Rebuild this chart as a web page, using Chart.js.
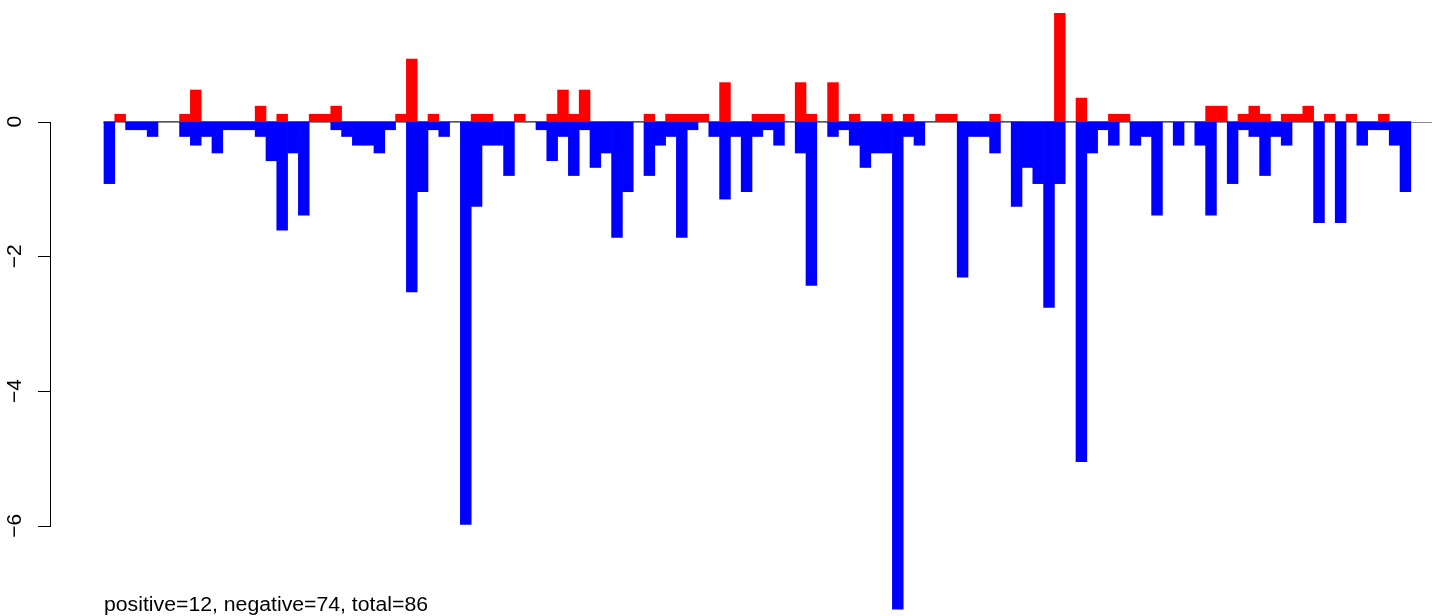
<!DOCTYPE html>
<html>
<head>
<meta charset="utf-8">
<script src="https://cdn.jsdelivr.net/npm/chart.js@4"></script>
<style>
  html, body { margin: 0; padding: 0; background: #fff; }
  #wrap { width: 1444px; height: 616px; }
</style>
</head>
<body>
<div id="wrap"><canvas id="cnv" width="1444" height="616"></canvas></div>
<script>
// red bars (gains) and blue bars (losses), one value per position, left to right
var gains = [
  0, 0.11, 0, 0, 0, 0, 0, 0.11, 0.47, 0,
  0, 0, 0, 0, 0.23, 0, 0.11, 0, 0, 0.11,
  0.11, 0.23, 0, 0, 0, 0, 0, 0.11, 0.93, 0,
  0.11, 0, 0, 0, 0.11, 0.11, 0, 0, 0.11, 0,
  0, 0.11, 0.47, 0.11, 0.47, 0, 0, 0, 0, 0,
  0.11, 0, 0.11, 0.11, 0.11, 0.11, 0, 0.58, 0, 0,
  0.11, 0.11, 0.11, 0, 0.58, 0.11, 0, 0.58, 0, 0.11,
  0, 0, 0.11, 0, 0.11, 0, 0, 0.11, 0.11, 0,
  0, 0, 0.11, 0, 0, 0, 0, 0, 1.61, 0,
  0.35, 0, 0, 0.11, 0.11, 0, 0, 0, 0, 0,
  0, 0, 0.23, 0.23, 0, 0.11, 0.23, 0.11, 0, 0.11,
  0.11, 0.23, 0, 0.11, 0, 0.11, 0, 0, 0.11, 0,
  0
];
var losses = [
  -0.92, 0, -0.12, -0.12, -0.22, 0, 0, -0.22, -0.35, -0.22,
  -0.465, -0.12, -0.12, -0.12, -0.22, -0.58, -1.61, -0.465, -1.39, 0,
  0, -0.12, -0.22, -0.35, -0.35, -0.465, -0.12, 0, -2.53, -1.04,
  -0.12, -0.22, 0, -5.98, -1.26, -0.35, -0.35, -0.8, 0, 0,
  -0.12, -0.58, -0.22, -0.8, -0.12, -0.68, -0.465, -1.72, -1.04, 0,
  -0.8, -0.35, -0.22, -1.72, -0.12, 0, -0.22, -1.15, -0.22, -1.04,
  -0.22, -0.12, -0.35, 0, -0.465, -2.43, 0, -0.22, -0.12, -0.35,
  -0.68, -0.465, -0.465, -7.24, -0.22, -0.35, 0, 0, 0, -2.31,
  -0.22, -0.22, -0.465, 0, -1.26, -0.68, -0.92, -2.76, -0.92, 0,
  -5.05, -0.465, -0.12, -0.35, 0, -0.35, -0.22, -1.39, 0, -0.35,
  0, -0.35, -1.39, 0, -0.92, -0.12, -0.22, -0.8, -0.22, -0.35,
  0, 0, -1.5, 0, -1.5, 0, -0.35, -0.12, -0.12, -0.35,
  -1.04
];
var yTicks = [0, -2, -4, -6];
var yTickLabels = ['0', '\u22122', '\u22124', '\u22126'];
var note = 'positive=12, negative=74, total=86';

function toPoints(arr) {
  return arr.map(function(v, i) { return { x: i + 1, y: v }; });
}

// R-like decorations: zero line, left axis with rotated labels, note at the bottom
var rStyle = {
  id: 'rStyle',
  beforeDatasetsDraw: function(chart) {
    var c = chart.ctx, a = chart.chartArea, y0 = Math.round(chart.scales.y.getPixelForValue(0)) + 0.5;
    c.save();
    c.strokeStyle = '#8c8c8c';
    c.lineWidth = 1;
    c.beginPath();
    c.moveTo(a.left, y0);
    c.lineTo(a.right, y0);
    c.stroke();
    c.restore();
  },
  afterDraw: function(chart) {
    var c = chart.ctx, ys = chart.scales.y;
    var top = Math.round(ys.getPixelForValue(yTicks[0]));
    var bot = Math.round(ys.getPixelForValue(yTicks[yTicks.length - 1]));
    c.save();
    c.strokeStyle = '#000';
    c.lineWidth = 1;
    c.beginPath();
    c.moveTo(50.5, top);
    c.lineTo(50.5, bot + 0.5);
    yTicks.forEach(function(t) {
      var p = Math.round(ys.getPixelForValue(t)) + 0.5;
      c.moveTo(38, p);
      c.lineTo(51, p);
    });
    c.stroke();

    c.fillStyle = '#000';
    c.font = '21px "Liberation Sans", Arial, sans-serif';
    c.textAlign = 'center';
    c.textBaseline = 'middle';
    yTicks.forEach(function(t, i) {
      c.save();
      c.translate(15, ys.getPixelForValue(t));
      c.rotate(-Math.PI / 2);
      c.fillText(yTickLabels[i], 0, 0);
      c.restore();
    });

    c.font = '20px "Liberation Sans", Arial, sans-serif';
    c.textAlign = 'left';
    c.textBaseline = 'alphabetic';
    var w = c.measureText(note).width;
    c.translate(104, 611);
    c.scale(324 / w, 1);
    c.fillText(note, 0, 0);
    c.restore();
  }
};

new Chart(document.getElementById('cnv'), {
  type: 'bar',
  data: {
    datasets: [
      { data: toPoints(gains), backgroundColor: '#ff0000', borderWidth: 0,
        grouped: false, barPercentage: 1, categoryPercentage: 1 },
      { data: toPoints(losses), backgroundColor: '#0000ff', borderWidth: 0,
        grouped: false, barPercentage: 1, categoryPercentage: 1 }
    ]
  },
  options: {
    responsive: false,
    animation: false,
    layout: { padding: { left: 103, right: 12, top: 0, bottom: 0 } },
    plugins: { legend: { display: false }, tooltip: { enabled: false } },
    scales: {
      x: { type: 'linear', min: 0.41, max: 123.46, offset: false, display: false },
      y: { min: -7.341, max: 1.807, display: false }
    }
  },
  plugins: [rStyle]
});
</script>
</body>
</html>
